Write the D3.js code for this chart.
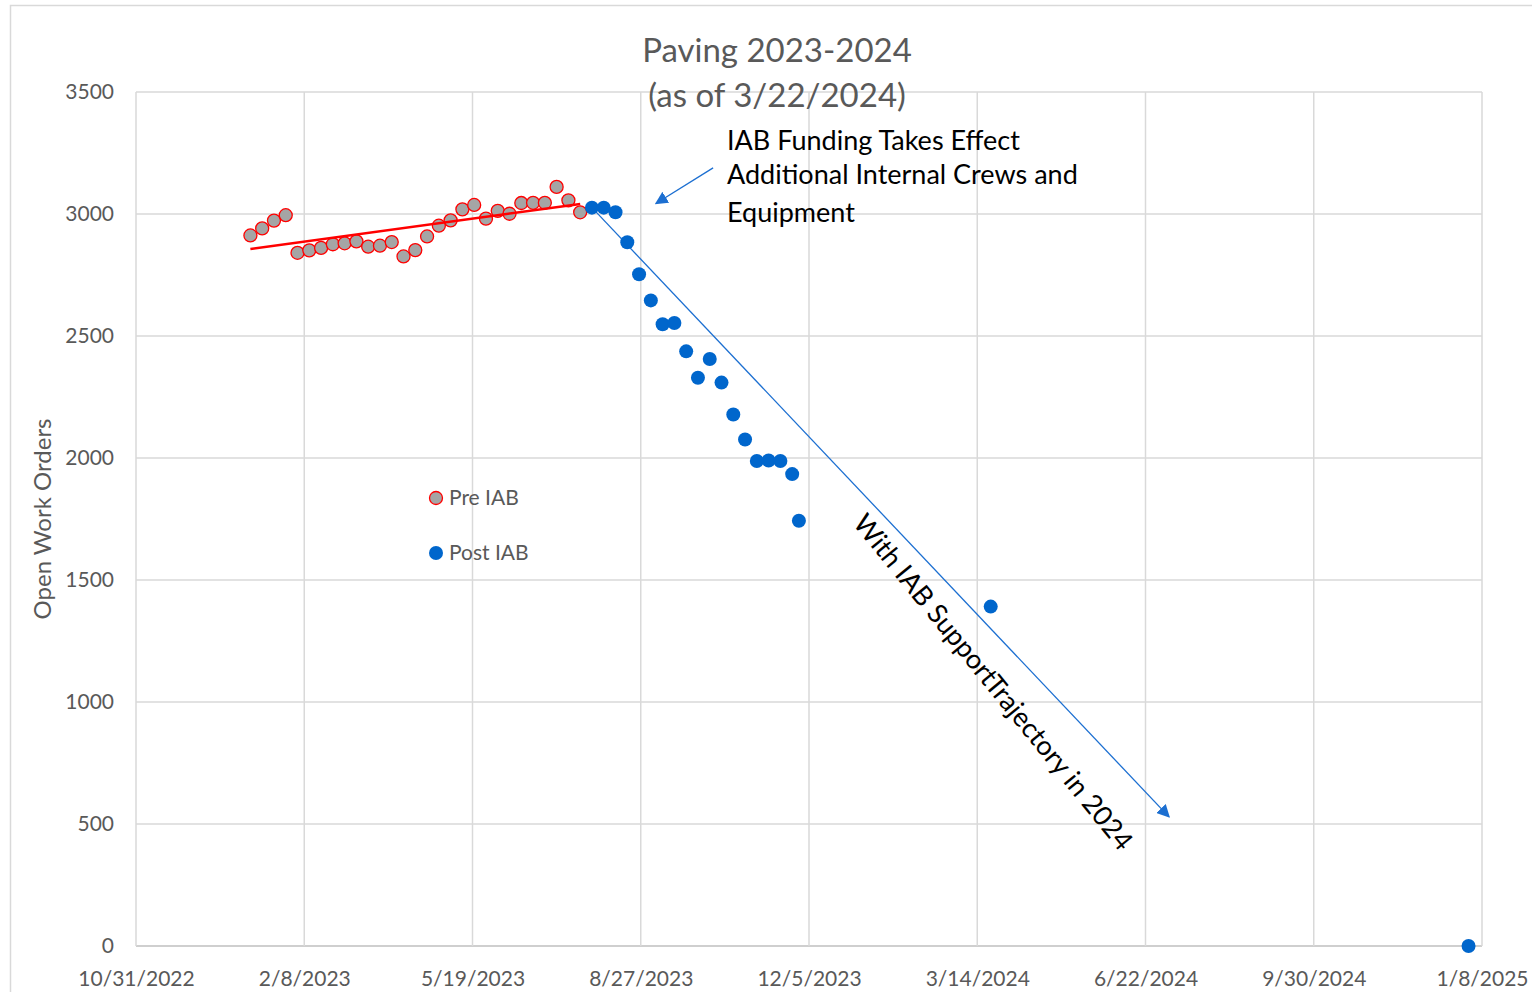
<!DOCTYPE html>
<html>
<head>
<meta charset="utf-8">
<script src="https://cdn.jsdelivr.net/npm/d3@7"></script>
<style>
  html, body { margin: 0; padding: 0; background: #fff; }
  svg { display: block; font-family: Lato, "Open Sans", sans-serif; }
</style>
</head>
<body>
<svg id="chart" width="1532" height="992"></svg>
<script>
// ---- Data ----
const preDates = ["2023-01-07","2023-01-14","2023-01-21","2023-01-28","2023-02-04","2023-02-11","2023-02-18","2023-02-25",
  "2023-03-04","2023-03-11","2023-03-18","2023-03-25","2023-04-01","2023-04-08","2023-04-15","2023-04-22","2023-04-29",
  "2023-05-06","2023-05-13","2023-05-20","2023-05-27","2023-06-03","2023-06-10","2023-06-17","2023-06-24","2023-07-01",
  "2023-07-08","2023-07-15","2023-07-22"];
const preValues = [2912, 2941, 2973, 2995, 2841, 2851, 2861, 2876, 2880, 2888, 2866, 2870, 2885, 2826, 2852, 2908, 2952,
  2974, 3019, 3037, 2981, 3013, 3001, 3045, 3046, 3046, 3111, 3056, 3007];
const postDates = ["2023-07-29","2023-08-05","2023-08-12","2023-08-19","2023-08-26","2023-09-02","2023-09-09","2023-09-16",
  "2023-09-23","2023-09-30","2023-10-07","2023-10-14","2023-10-21","2023-10-28","2023-11-04","2023-11-11","2023-11-18",
  "2023-11-25","2023-11-29","2024-03-22","2024-12-31"];
const postValues = [3026, 3026, 3007, 2884, 2753, 2646, 2548, 2553, 2437, 2329, 2406, 2309, 2178, 2076, 1988, 1990, 1988,
  1934, 1743, 1391, 0];
const xTickLabels = ["10/31/2022","2/8/2023","5/19/2023","8/27/2023","12/5/2023","3/14/2024","6/22/2024","9/30/2024","1/8/2025"];
const yTicks = [0, 500, 1000, 1500, 2000, 2500, 3000, 3500];
const seriesNames = ["Pre IAB", "Post IAB"];
const titleLines = ["Paving 2023-2024", "(as of 3/22/2024)"];
const yAxisTitle = "Open Work Orders";
const noteLines = ["IAB Funding Takes Effect", "Additional Internal Crews and", "Equipment"];
const trajectoryText = "With IAB SupportTrajectory in 2024";
// annotation anchor points in data space [date, value]
const trajectoryEnd = ["2024-07-06", 529];
const noteArrow = [["2023-10-09", 3189], ["2023-09-05", 3043]];

// ---- Setup ----
const parseISO = d3.utcParse("%Y-%m-%d");
const parseTick = d3.utcParse("%m/%d/%Y");
const tickDates = xTickLabels.map(parseTick);
const svg = d3.select("#chart");
const L = 136, R = 1482, T = 92, B = 946;
const x = d3.scaleUtc().domain([tickDates[0], tickDates[tickDates.length - 1]]).range([L, R]);
const y = d3.scaleLinear().domain([0, 3500]).range([B, T]);
const gray = "#595959", grid = "#d9d9d9", blue = "#0066cc", lineBlue = "#1c6fd1";

// outer chart border
svg.append("rect").attr("x", 10.5).attr("y", 5.5).attr("width", 1540).attr("height", 1000)
  .attr("fill", "none").attr("stroke", grid).attr("stroke-width", 1.5);

// gridlines
svg.append("g").selectAll("line").data(yTicks).join("line")
  .attr("x1", L).attr("x2", R).attr("y1", d => y(d)).attr("y2", d => y(d))
  .attr("stroke", d => d === 0 ? "#bfbfbf" : grid).attr("stroke-width", 1.5);
svg.append("g").selectAll("line").data(tickDates).join("line")
  .attr("x1", d => x(d)).attr("x2", d => x(d)).attr("y1", T).attr("y2", B)
  .attr("stroke", grid).attr("stroke-width", 1.5);

// axes via d3 axis generators (labels only)
const yAxis = svg.append("g").attr("transform", `translate(${L},0)`)
  .call(d3.axisLeft(y).tickValues(yTicks).tickSize(0).tickPadding(22).tickFormat(d3.format("d")));
yAxis.select(".domain").remove();
yAxis.selectAll("text").attr("font-size", 21).attr("fill", gray).attr("font-family", "Lato");

const xAxis = svg.append("g").attr("transform", `translate(0,${B})`)
  .call(d3.axisBottom(x).tickValues(tickDates).tickSize(0).tickPadding(25)
    .tickFormat((d, i) => xTickLabels[i]));
xAxis.select(".domain").remove();
xAxis.selectAll("text").attr("font-size", 21).attr("fill", gray).attr("font-family", "Lato");

// titles
svg.append("g").selectAll("text").data(titleLines).join("text")
  .attr("x", 777).attr("y", (d, i) => 62 + i * 45)
  .attr("text-anchor", "middle").attr("font-size", 33).attr("fill", gray).text(d => d);

svg.append("text").attr("transform", "translate(51,519) rotate(-90)")
  .attr("text-anchor", "middle").attr("font-size", 24).attr("fill", gray).text(yAxisTitle);

// arrow marker
const defs = svg.append("defs");
defs.append("marker").attr("id", "arrow").attr("viewBox", "0 0 10 10").attr("refX", 9).attr("refY", 5)
  .attr("markerWidth", 13).attr("markerHeight", 13).attr("markerUnits", "userSpaceOnUse").attr("orient", "auto")
  .append("path").attr("d", "M0,0 L10,5 L0,10 Z").attr("fill", lineBlue);

const pre = preDates.map((d, i) => ({ date: parseISO(d), value: preValues[i] }));
const post = postDates.map((d, i) => ({ date: parseISO(d), value: postValues[i] }));

// pre points
svg.append("g").selectAll("circle").data(pre).join("circle")
  .attr("cx", d => x(d.date)).attr("cy", d => y(d.value)).attr("r", 6.5)
  .attr("fill", "#a5a5a5").attr("stroke", "#ff0000").attr("stroke-width", 1.3);

// linear trendline for pre data
const lr = (() => {
  const xs = pre.map(d => +d.date), ys = pre.map(d => d.value);
  const mx = d3.mean(xs), my = d3.mean(ys);
  const b = d3.sum(xs, (v, i) => (v - mx) * (ys[i] - my)) / d3.sum(xs, v => (v - mx) ** 2);
  return t => my + b * (t - mx);
})();
const tl = [pre[0].date, pre[pre.length - 1].date];
svg.append("line")
  .attr("x1", x(tl[0])).attr("y1", y(lr(+tl[0])))
  .attr("x2", x(tl[1])).attr("y2", y(lr(+tl[1])))
  .attr("stroke", "#ff0000").attr("stroke-width", 2.5);

// trajectory arrow
svg.append("line")
  .attr("x1", x(post[0].date)).attr("y1", y(post[0].value))
  .attr("x2", x(parseISO(trajectoryEnd[0]))).attr("y2", y(trajectoryEnd[1]))
  .attr("stroke", lineBlue).attr("stroke-width", 1.3).attr("marker-end", "url(#arrow)");

// note arrow
svg.append("line")
  .attr("x1", x(parseISO(noteArrow[0][0]))).attr("y1", y(noteArrow[0][1]))
  .attr("x2", x(parseISO(noteArrow[1][0]))).attr("y2", y(noteArrow[1][1]))
  .attr("stroke", lineBlue).attr("stroke-width", 1.3).attr("marker-end", "url(#arrow)");

// post points
svg.append("g").selectAll("circle").data(post).join("circle")
  .attr("cx", d => x(d.date)).attr("cy", d => y(d.value)).attr("r", 7)
  .attr("fill", blue);

// note text
svg.append("g").selectAll("text").data(noteLines).join("text")
  .attr("x", 727).attr("y", (d, i) => [150, 184, 222][i])
  .attr("font-size", 27).attr("fill", "#000").text(d => d);

// trajectory text
svg.append("text").attr("transform", "translate(986,688) rotate(50.8)")
  .attr("text-anchor", "middle").attr("font-size", 27).attr("fill", "#000").text(trajectoryText);

// legend
const lg = svg.append("g");
lg.append("circle").attr("cx", 436).attr("cy", 498).attr("r", 6.5)
  .attr("fill", "#a5a5a5").attr("stroke", "#ff0000").attr("stroke-width", 1.3);
lg.append("circle").attr("cx", 436).attr("cy", 553).attr("r", 7).attr("fill", blue);
lg.selectAll("text").data(seriesNames).join("text")
  .attr("x", 449).attr("y", (d, i) => 505 + i * 55)
  .attr("font-size", 21).attr("fill", gray).text(d => d);
</script>
</body>
</html>
